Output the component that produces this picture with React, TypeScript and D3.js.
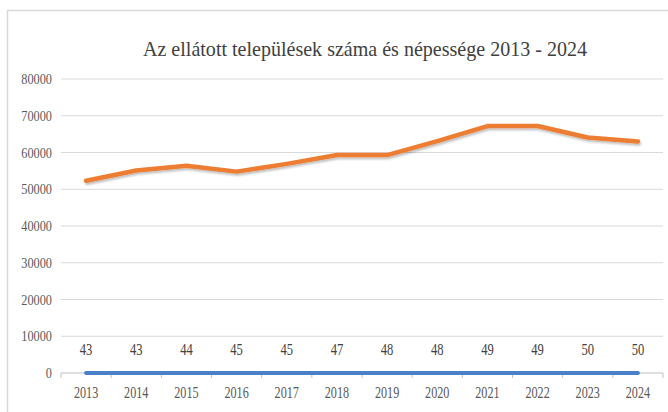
import React, { useEffect } from 'react';
import * as d3 from 'd3';

const years = ['2013', '2014', '2015', '2016', '2017', '2018', '2019', '2020', '2021', '2022', '2023', '2024'];
const population = [52300, 55100, 56400, 54800, 56900, 59300, 59300, 63100, 67200, 67200, 64100, 63000];
const settlements = [43, 43, 44, 45, 45, 47, 48, 48, 49, 49, 50, 50];
const yTicks = [0, 10000, 20000, 30000, 40000, 50000, 60000, 70000, 80000];

const W = 668;
const H = 412;
const FONT = "'Liberation Serif'";

// narrow serif text, squeezed horizontally like the original's condensed face
function CText(props: { x: number; y: number; size: number; sx: number; anchor: string; fill: string; children: React.ReactNode }) {
  const { x, y, size, sx, anchor, fill, children } = props;
  const k = 2;
  return (
    <text transform={`translate(${x},${y}) scale(${sx / k},${1 / k})`} textAnchor={anchor} fill={fill}
      style={{ fontFamily: FONT, fontSize: size * k + 'px' }}>
      {children}
    </text>
  );
}

export default function App() {
  useEffect(() => {
    document.body.style.margin = '0';
  }, []);

  const x = d3.scaleBand().domain(years).range([61, 663]);
  const y = d3.scaleLinear().domain([0, 80000]).range([373, 79]);
  const cx = (d: string) => (x(d) || 0) + x.bandwidth() / 2;

  const line = d3.line<number>()
    .x((d, i) => cx(years[i]))
    .y(d => y(d));

  const zeroLine = d3.line<number>()
    .x((d, i) => cx(years[i]))
    .y(() => y(0));

  return (
    <svg width={W} height={H} style={{ display: 'block', background: '#fff' }}>
      <defs>
        <filter id="shadow" x="-5%" y="-20%" width="110%" height="140%">
          <feDropShadow dx="1" dy="2" stdDeviation="1.2" floodColor="#000" floodOpacity="0.25" />
        </filter>
      </defs>
      {/* chart frame */}
      <rect x={7.5} y={10.5} width={W} height={H} fill="none" stroke="#d9d9d9" strokeWidth={1.5} />

      <text x={365} y={56} textAnchor="middle" textLength={444} lengthAdjust="spacingAndGlyphs" fill="#404040"
        style={{ fontFamily: FONT, fontSize: '22px' }}>
        Az ellátott települések száma és népessége 2013 - 2024
      </text>

      {yTicks.map(t => (
        <g key={t}>
          {t > 0 && (
            <line x1={61} x2={663} y1={y(t)} y2={y(t)} stroke="#d9d9d9" strokeWidth={1} />
          )}
          <CText x={52} y={y(t) + 5} size={15} sx={0.82} anchor="end" fill="#595959">{t}</CText>
        </g>
      ))}

      {/* category axis */}
      <line x1={61} x2={663} y1={y(0)} y2={y(0)} stroke="#bfbfbf" strokeWidth={1} />
      {years.concat(['end']).map((d, i) => {
        const px = i < years.length ? (x(d) || 0) : 663;
        return <line key={'t' + i} x1={px} x2={px} y1={y(0)} y2={y(0) + 5} stroke="#bfbfbf" strokeWidth={1} />;
      })}
      {years.map(d => (
        <CText key={d} x={cx(d)} y={398} size={16} sx={0.76} anchor="middle" fill="#595959">{d}</CText>
      ))}

      <path d={line(population) || ''} fill="none" stroke="#ED7D31" strokeWidth={4.5}
        strokeLinejoin="round" strokeLinecap="round" filter="url(#shadow)" />
      <path d={zeroLine(settlements) || ''} fill="none" stroke="#4A7FC9" strokeWidth={4}
        strokeLinejoin="round" strokeLinecap="round" />

      {settlements.map((v, i) => (
        <CText key={'l' + i} x={cx(years[i])} y={355} size={17} sx={0.74} anchor="middle" fill="#404040">{v}</CText>
      ))}
    </svg>
  );
}
